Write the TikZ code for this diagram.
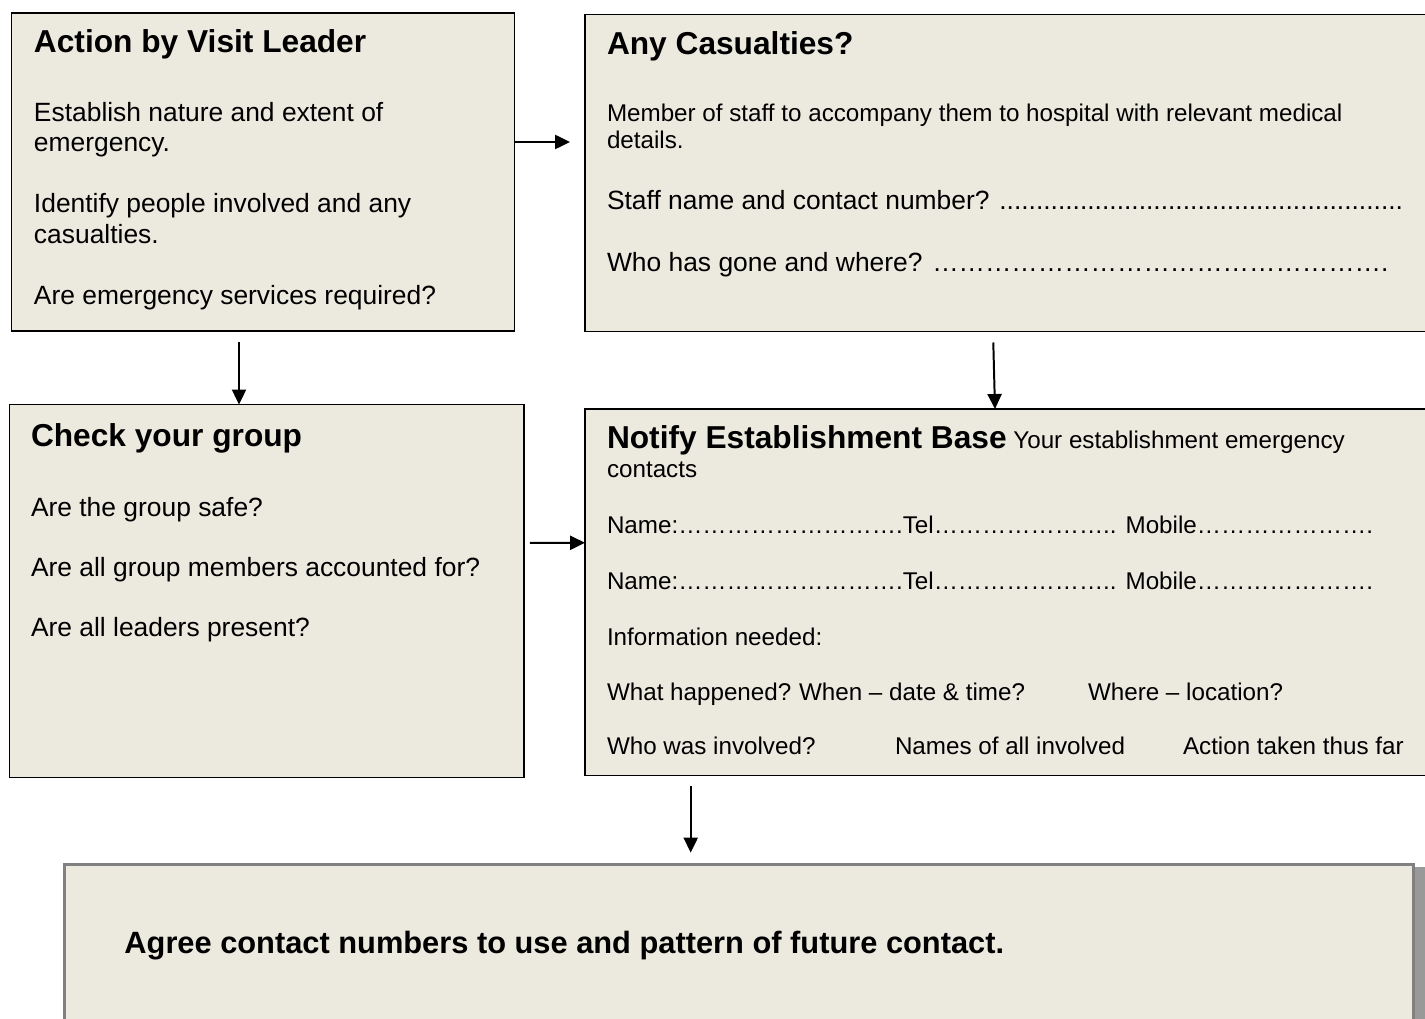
\documentclass[tikz,border=0pt]{standalone}
\usepackage{fontspec}
\setmainfont{Liberation Sans}
\usetikzlibrary{arrows.meta,calc}
\definecolor{boxfill}{RGB}{236,233,223}
\definecolor{shadowc}{RGB}{153,153,153}
\definecolor{bfiveline}{RGB}{128,128,128}
\begin{document}
\begin{tikzpicture}[x=0.4545pt,y=-0.4545pt,
  box/.style={draw=black, line width=0.9pt, fill=boxfill, rectangle, inner sep=0pt, outer sep=0pt},
  txt/.style={anchor=base west, inner sep=0pt, outer sep=0pt, font=\fontsize{12}{14}\selectfont},
  small/.style={anchor=base west, inner sep=0pt, outer sep=0pt, font=\fontsize{11}{13}\selectfont},
  head/.style={anchor=base west, inner sep=0pt, outer sep=0pt, font=\fontsize{14.4}{17}\selectfont\bfseries},
  arr/.style={line width=0.9pt, -{Triangle[length=6.8pt,width=6.4pt]}}]
\useasboundingbox (0,0) rectangle (1425,1019);
\clip (0,0) rectangle (1425,1019);

% boxes
\node[box, minimum width=503*0.4545pt, minimum height=318*0.4545pt] (b1) at (263,172) {};
\node[box, minimum width=855*0.4545pt, minimum height=317*0.4545pt] (b2) at (1012.5,173) {};
\node[box, minimum width=514.5*0.4545pt, minimum height=373*0.4545pt] (b3) at (266.75,591) {};
\node[box, minimum width=855*0.4545pt, minimum height=366.5*0.4545pt] (b4) at (1012.5,592.25) {};
\node[box, draw=bfiveline, line width=1.36pt, minimum width=1349*0.4545pt, minimum height=175.5*0.4545pt] (b5) at (739,952.25) {};
\fill[shadowc] ($(b5.north east)+(1.5,2.5)$) rectangle ($(b5.south east)+(11.5,0)$);

% box 1
\node[head] (t1h) at (34,53) {Action by Visit Leader};
\node[txt] (t1a) at (34,122) {Establish nature and extent of};
\node[txt] (t1b) at (34,152) {emergency.};
\node[txt] (t1c) at (34,213) {Identify people involved and any};
\node[txt] (t1d) at (34,244) {casualties.};
\node[txt] (t1e) at (34,305) {Are emergency services required?};

% box 2
\node[head] (t2h) at (607,55) {Any Casualties?};
\node[small] (t2a) at (607,122) {Member of staff to accompany them to hospital with relevant medical};
\node[small] (t2b) at (607,149) {details.};
\node[txt] (t2c) at (607,210) {Staff name and contact number? .......................................................};
\node[txt] (t2d) at (607,272) {Who has gone and where? …{}…{}…{}…{}…{}…{}…{}…{}…{}…{}…{}…{}…{}…{}…{}…{}….};

% box 3
\node[head] (t3h) at (31,447) {Check your group};
\node[txt] (t3a) at (31,516) {Are the group safe?};
\node[txt] (t3b) at (31,576) {Are all group members accounted for?};
\node[txt] (t3c) at (31,636) {Are all leaders present?};

% box 4
\node[small] (t4h) at (607,449) {{\fontsize{14.4}{17}\selectfont\bfseries Notify Establishment Base} Your establishment emergency};
\node[small] (t4a) at (607,478) {contacts};
\node[small] (t4b) at (607,533) {Name:…{}…{}…{}…{}…{}…{}…{}…{}….Tel…{}…{}…{}…{}…{}…{}….. Mobile…{}…{}…{}…{}…{}…{}….};
\node[small] (t4c) at (607,589) {Name:…{}…{}…{}…{}…{}…{}…{}…{}….Tel…{}…{}…{}…{}…{}…{}….. Mobile…{}…{}…{}…{}…{}…{}….};
\node[small] (t4d) at (607,645) {Information needed:};
\node[small] (t4e) at (607,700) {What happened?};
\node[small] (t4f) at (799,700) {When – date \& time?};
\node[small] (t4g) at (1088,700) {Where – location?};
\node[small] (t4i) at (607,754) {Who was involved?};
\node[small] (t4j) at (895,754) {Names of all involved};
\node[small] (t4k) at (1183,754) {Action taken thus far};

% box 5
\node[anchor=base west, inner sep=0pt, font=\fontsize{14}{17}\selectfont\bfseries] (t5) at (124,953) {Agree contact numbers to use and pattern of future contact.};

% arrows
\draw[arr, shorten >=6.8pt] ($(b1.east)+(0,-30)$) -- ($(b2.west)+(0,-31)$);
\draw[arr, shorten <=5pt] ($(b1.south)+(-24,0)$) -- ($(b3.north)+(-27.75,0)$);
\draw[arr, shorten <=5pt] ($(b2.south)+(-19.5,0)$) -- ($(b4.north)+(-17.5,0)$);
\draw[arr, shorten <=2.7pt] ($(b3.east)+(0,-48)$) -- ($(b4.west)+(0,-49.5)$);
\draw[arr, shorten <=4.8pt, shorten >=5.4pt] ($(b4.south)+(-321.8,0)$) -- ($(b5.north)+(-48.3,0)$);
\end{tikzpicture}
\end{document}
